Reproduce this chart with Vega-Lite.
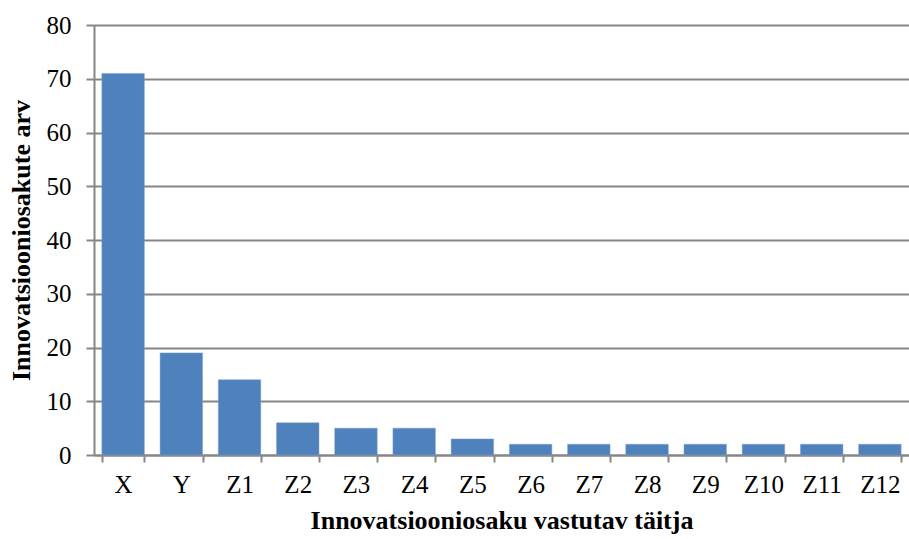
{
  "$schema": "https://vega.github.io/schema/vega-lite/v6.json",
  "width": 815,
  "height": 430,
  "autosize": {"type": "none"},
  "padding": {"left": 94, "top": 25, "right": 0, "bottom": 84},
  "background": "white",
  "data": {"values": [
    {"taitja": "X", "arv": 71},
    {"taitja": "Y", "arv": 19},
    {"taitja": "Z1", "arv": 14},
    {"taitja": "Z2", "arv": 6},
    {"taitja": "Z3", "arv": 5},
    {"taitja": "Z4", "arv": 5},
    {"taitja": "Z5", "arv": 3},
    {"taitja": "Z6", "arv": 2},
    {"taitja": "Z7", "arv": 2},
    {"taitja": "Z8", "arv": 2},
    {"taitja": "Z9", "arv": 2},
    {"taitja": "Z10", "arv": 2},
    {"taitja": "Z11", "arv": 2},
    {"taitja": "Z12", "arv": 2}
  ]},
  "mark": {"type": "bar", "color": "#4F81BD", "stroke": "#7FA3D1", "strokeWidth": 0.5},
  "encoding": {
    "x": {
      "field": "taitja", "type": "nominal", "sort": null,
      "scale": {"paddingInner": 0.27, "paddingOuter": 0.135},
      "axis": {
        "title": "Innovatsiooniosaku vastutav täitja",
        "titleFont": "Liberation Serif", "titleFontSize": 26, "titleFontWeight": "bold", "titleColor": "black",
        "titlePadding": 10,
        "labelFont": "Liberation Serif", "labelFontSize": 25, "labelColor": "black", "labelAngle": 0,
        "labelPadding": 10,
        "tickBand": "extent", "tickSize": 7, "tickColor": "#868686", "tickWidth": 2,
        "domainColor": "#868686", "domainWidth": 2,
        "grid": false
      }
    },
    "y": {
      "field": "arv", "type": "quantitative",
      "scale": {"domain": [0, 80]},
      "axis": {
        "title": "Innovatsiooniosakute arv",
        "titleFont": "Liberation Serif", "titleFontSize": 26, "titleFontWeight": "bold", "titleColor": "black",
        "titlePadding": 12,
        "values": [0, 10, 20, 30, 40, 50, 60, 70, 80],
        "labelFont": "Liberation Serif", "labelFontSize": 25, "labelColor": "black",
        "labelPadding": 15,
        "tickSize": 8, "tickColor": "#868686", "tickWidth": 2,
        "domainColor": "#868686", "domainWidth": 2,
        "grid": true, "gridColor": "#868686", "gridWidth": 2
      }
    }
  },
  "config": {"view": {"stroke": null}}
}
